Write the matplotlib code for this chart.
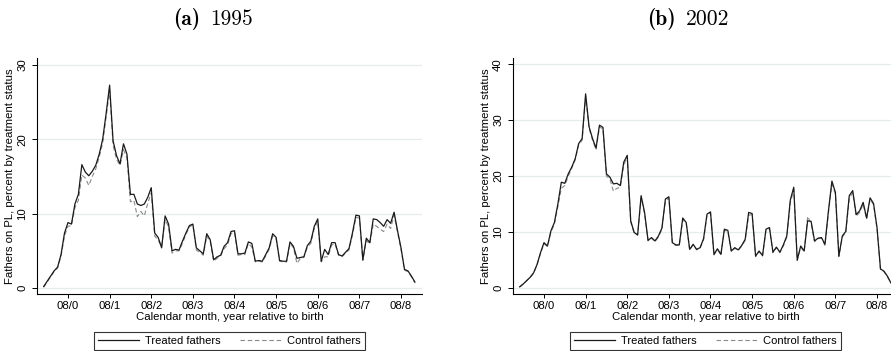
#!/usr/bin/env python3
"""
Share of fathers on parental leave by calendar month, treated vs control,
for the 1995 and 2002 reforms (two panels side by side).
"""

import numpy as np
import matplotlib
matplotlib.use("Agg")
import matplotlib.pyplot as plt

# month index 0 = January of the birth year; ticks every August
TICK_LABELS = ["08/0", "08/1", "08/2", "08/3", "08/4", "08/5", "08/6", "08/7", "08/8"]
TICK_MONTHS = [7, 19, 31, 43, 55, 67, 79, 91, 103]

TREATED_1995 = [
    0.2, 0.9, 1.6, 2.3, 2.8, 4.5, 7.4, 8.8, 8.6, 11.3, 12.6, 16.6,
    15.6, 15.1, 15.7, 16.5, 18.0, 20.0, 23.5, 27.3, 19.8, 17.8, 16.7, 19.4,
    18.0, 12.6, 12.6, 11.3, 11.1, 11.3, 12.2, 13.5, 7.4, 6.8, 5.4, 9.7,
    8.6, 5.0, 5.2, 5.1, 6.3, 7.4, 8.4, 8.6, 5.4, 5.0, 4.6, 7.3,
    6.5, 3.8, 4.2, 4.4, 5.6, 6.1, 7.6, 7.7, 4.6, 4.6, 4.7, 6.2,
    6.0, 3.6, 3.7, 3.6, 4.5, 5.4, 7.3, 6.8, 3.7, 3.6, 3.6, 6.2,
    5.6, 4.0, 4.1, 4.2, 5.7, 6.3, 8.3, 9.3, 3.6, 5.2, 4.5, 6.1,
    6.1, 4.5, 4.3, 4.8, 5.3, 7.4, 9.8, 9.7, 3.8, 6.7, 6.1, 9.3,
    9.2, 8.8, 8.3, 9.2, 8.7, 10.2, 7.7, 5.4, 2.5, 2.3, 1.6, 0.8,
]
CONTROL_1995 = [
    0.1, 0.8, 1.5, 2.2, 2.7, 4.3, 7.0, 8.3, 8.4, 10.8, 11.8, 15.2,
    14.8, 13.8, 15.0, 16.0, 17.6, 19.5, 23.0, 26.6, 19.2, 17.3, 16.5, 18.6,
    17.5, 11.6, 11.8, 9.6, 10.3, 9.7, 11.4, 12.8, 7.0, 6.4, 5.6, 9.2,
    8.2, 4.7, 5.0, 5.0, 6.0, 7.2, 8.2, 8.5, 5.1, 4.8, 4.4, 7.0,
    6.2, 3.6, 4.0, 4.3, 5.3, 5.8, 7.3, 7.5, 4.4, 4.5, 4.5, 6.0,
    5.5, 3.5, 3.6, 3.5, 4.3, 5.2, 7.0, 6.6, 3.6, 3.5, 3.5, 6.0,
    5.4, 3.3, 4.0, 4.1, 5.5, 6.0, 8.0, 9.0, 3.5, 4.2, 4.2, 5.8,
    5.9, 4.4, 4.2, 4.7, 5.1, 7.1, 9.5, 9.4, 3.7, 6.4, 5.9, 8.6,
    8.3, 7.9, 7.6, 8.6, 8.0, 9.8, 7.5, 5.2, 2.4, 2.2, 1.5, 0.7,
]

TREATED_2002 = [
    0.2, 0.7, 1.3, 1.9, 2.7, 4.2, 6.3, 8.1, 7.5, 10.2, 11.7, 15.0,
    18.9, 18.7, 20.4, 21.6, 23.1, 25.8, 26.7, 34.7, 28.8, 26.7, 25.0, 29.1,
    28.7, 20.4, 19.8, 18.6, 18.7, 18.3, 22.5, 23.7, 12.0, 9.9, 9.5, 16.5,
    13.5, 8.5, 9.0, 8.4, 9.3, 10.7, 15.9, 16.3, 8.1, 7.7, 7.7, 12.5,
    11.7, 6.9, 7.8, 6.9, 7.2, 8.8, 13.2, 13.6, 6.0, 7.0, 6.0, 10.5,
    10.3, 6.6, 7.2, 6.8, 7.6, 8.7, 13.5, 13.3, 5.7, 6.6, 5.8, 10.5,
    10.8, 6.4, 7.3, 6.4, 7.7, 9.3, 15.7, 18.0, 5.0, 7.5, 6.6, 12.0,
    11.9, 8.4, 8.9, 9.0, 7.8, 13.8, 19.1, 17.1, 5.7, 9.3, 10.1, 16.5,
    17.4, 13.1, 13.8, 15.3, 12.5, 16.1, 15.1, 10.8, 3.4, 3.0, 2.1, 0.9,
]
CONTROL_2002 = [
    0.2, 0.7, 1.3, 1.9, 2.6, 4.1, 6.2, 7.9, 7.4, 10.0, 11.4, 14.5,
    17.8, 18.3, 20.0, 21.4, 22.9, 25.6, 26.4, 34.2, 28.5, 26.4, 24.7, 28.8,
    28.4, 20.0, 19.5, 17.3, 17.8, 18.0, 22.0, 23.4, 11.8, 9.8, 9.4, 16.1,
    13.2, 8.4, 8.9, 8.3, 9.1, 10.5, 15.5, 16.1, 8.0, 7.6, 7.6, 12.2,
    11.5, 6.8, 7.7, 6.8, 7.1, 8.6, 13.0, 13.4, 5.9, 6.9, 5.9, 10.3,
    10.1, 6.5, 7.1, 6.7, 7.5, 8.5, 13.0, 13.1, 5.6, 6.5, 5.7, 10.3,
    10.6, 6.3, 7.2, 6.3, 7.5, 9.1, 15.2, 17.6, 4.9, 7.3, 6.5, 12.8,
    11.5, 8.3, 8.8, 8.9, 7.6, 13.4, 18.6, 16.8, 5.6, 9.1, 9.9, 16.0,
    17.0, 12.8, 13.5, 15.0, 12.3, 15.8, 14.9, 10.6, 3.3, 2.9, 2.0, 0.9,
]

PANELS = [
    ("(a)", "1995", TREATED_1995, CONTROL_1995, [0, 10, 20, 30], 30.95, -0.81),
    ("(b)", "2002", TREATED_2002, CONTROL_2002, [0, 10, 20, 30, 40], 41.1, -1.08),
]

FONT = "Liberation Sans"
GRID_COLOR = "#e4ecee"

W, H = 891, 351


def draw_panel(ax, treated, control, yticks, ytop, ybottom):
    months = np.arange(len(treated))
    for y in yticks:
        ax.axhline(y, color=GRID_COLOR, linewidth=0.9, zorder=0)
    ax.plot(months, control, color="#8a8a8a", linewidth=0.8,
            linestyle=(0, (4, 2.5)), zorder=2, label="Control fathers")
    ax.plot(months, treated, color="#1a1a1a", linewidth=0.9,
            zorder=3, label="Treated fathers")

    ax.set_xlim(-1.93, 109.05)
    ax.set_ylim(ybottom, ytop)
    ax.set_xticks(TICK_MONTHS)
    ax.set_xticklabels(TICK_LABELS, fontsize=8.2, family=FONT)
    ax.set_yticks(yticks)
    ax.set_yticklabels([str(v) for v in yticks], fontsize=8.2, family=FONT,
                       rotation=90, va="center")
    ax.tick_params(axis="x", direction="out", length=3.0, width=0.7,
                   pad=2, colors="black")
    ax.tick_params(axis="y", direction="out", length=3.6, width=0.7,
                   pad=3.5, colors="black")
    for side in ("top", "right"):
        ax.spines[side].set_visible(False)
    for side in ("left", "bottom"):
        ax.spines[side].set_linewidth(0.8)
    ax.set_xlabel("Calendar month, year relative to birth", fontsize=8.2,
                  family=FONT, labelpad=0.5)
    ax.set_ylabel("Fathers on PL, percent by treatment status", fontsize=8.2,
                  family=FONT, labelpad=1.5)


def main():
    fig = plt.figure(figsize=(W / 100, H / 100), dpi=100)

    offsets = [0, 476]
    for (tag, year, treated, control, yticks, ytop, ybottom), dx in zip(PANELS, offsets):
        ax = fig.add_axes([(37 + dx) / W, (H - 294) / H, 385 / W, 236 / H])
        draw_panel(ax, treated, control, yticks, ytop, ybottom)

        # subfigure caption in Computer Modern, bold tag + roman year
        fig.text((200 + dx) / W, 1 - 25 / H, tag, fontsize=15.5,
                 family="cmb10", ha="right", va="baseline")
        fig.text((210 + dx) / W, 1 - 25 / H, year, fontsize=15.5,
                 family="cmr10", ha="left", va="baseline")

        handles, labels = ax.get_legend_handles_labels()
        leg = fig.legend(handles[::-1], labels[::-1], ncol=2, loc="center",
                         bbox_to_anchor=((229.5 + dx) / W, 1 - 340.7 / H),
                         prop={"family": FONT, "size": 8},
                         frameon=True, fancybox=False, edgecolor="black",
                         handlelength=3.7, handletextpad=0.55,
                         columnspacing=1.7, borderpad=0.35)
        leg.get_frame().set_linewidth(0.8)

    fig.savefig("out.png", dpi=100)
    plt.close(fig)


if __name__ == "__main__":
    main()
